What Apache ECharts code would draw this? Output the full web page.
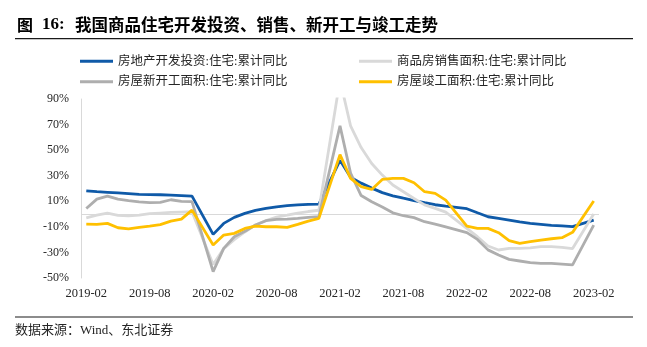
<!DOCTYPE html>
<html>
<head>
<meta charset="utf-8">
<script src="https://cdn.jsdelivr.net/npm/echarts@6/dist/echarts.min.js"></script>
<style>
html,body{margin:0;padding:0;background:#fff;}
#c{width:647px;height:347px;}
</style>
</head>
<body>
<div id="c"></div>
<script>
// ---- data ----
const months = [
  '2019-02','2019-03','2019-04','2019-05','2019-06','2019-07','2019-08','2019-09','2019-10','2019-11','2019-12','2020-01',
  '2020-02','2020-03','2020-04','2020-05','2020-06','2020-07','2020-08','2020-09','2020-10','2020-11','2020-12','2021-01',
  '2021-02','2021-03','2021-04','2021-05','2021-06','2021-07','2021-08','2021-09','2021-10','2021-11','2021-12','2022-01',
  '2022-02','2022-03','2022-04','2022-05','2022-06','2022-07','2022-08','2022-09','2022-10','2022-11','2022-12','2023-01',
  '2023-02'
];
const seriesNames = [
  '房地产开发投资:住宅:累计同比',
  '商品房销售面积:住宅:累计同比',
  '房屋新开工面积:住宅:累计同比',
  '房屋竣工面积:住宅:累计同比'
];
const investment = [
  18.2, 17.5, 17.0, 16.5, 16.0, 15.4, 15.2, 15.1, 14.8, 14.5, 14.0, null,
  -15.9, -7.3, -2.6, 0.5, 2.9, 4.4, 5.7, 6.6, 7.2, 7.6, 7.8, null,
  42.0, 28.8, 24.2, 20.3, 16.8, 14.3, 12.4, 10.6, 8.9, 7.3, 6.2, null,
  4.2, 1.0, -2.1, -3.4, -4.7, -6.1, -7.2, -8.0, -8.8, -9.3, -9.8, null,
  -4.7
];
const salesArea = [
  -2.9, -0.8, 0.8, -1.0, -1.3, -0.8, 0.3, 0.8, 1.3, 1.6, 1.8, null,
  -39.5, -27.0, -20.0, -14.0, -8.5, -5.0, -2.3, -0.8, 0.8, 2.0, 3.0, null,
  104.9, 69.0, 52.0, 39.5, 30.5, 22.7, 17.5, 12.2, 7.2, 4.4, 1.5, null,
  -11.2, -17.7, -25.0, -28.1, -26.8, -26.8, -26.5, -25.5, -25.5, -26.0, -27.0, null,
  0.0
];
const newStarts = [
  4.4, 11.7, 14.1, 11.7, 10.6, 9.6, 9.0, 9.1, 11.2, 9.9, 9.8, null,
  -45.0, -26.8, -17.7, -13.5, -8.6, -5.2, -4.2, -3.9, -3.4, -2.6, -2.0, null,
  69.0, 32.0, 14.5, 9.6, 5.5, 1.0, -1.3, -2.8, -6.0, -7.8, -10.0, null,
  -14.5, -19.8, -28.0, -32.0, -35.4, -36.7, -38.0, -38.5, -38.6, -39.1, -39.8, null,
  -8.6
];
const completions = [
  -7.8, -8.1, -7.3, -10.7, -11.5, -10.4, -9.4, -8.3, -5.5, -3.9, 3.1, null,
  -24.2, -16.4, -15.1, -11.2, -9.4, -9.9, -9.9, -10.4, -8.1, -5.5, -3.4, null,
  46.5, 27.9, 21.4, 19.3, 27.1, 27.9, 27.9, 24.5, 17.5, 16.2, 10.9, null,
  -9.4, -11.2, -11.2, -14.6, -20.8, -22.9, -21.6, -20.3, -19.3, -18.5, -14.3, null,
  10.2
];
const yMin = -50, yMax = 90, yStep = 20;
const colors = ['#0f5aa8', '#d9d9d9', '#aeaeae', '#ffc000'];
const titleText = '我国商品住宅开发投资、销售、新开工与竣工走势';
const sourceText = '数据来源：Wind、东北证券';

// ---- chart ----
const SERIF = '"Liberation Serif", "Noto Sans CJK SC", serif';
const chart = echarts.init(document.getElementById('c'), null, {renderer: 'canvas'});

function legendAt(name, left, top) {
  return {
    data: [name], left: left, top: top, padding: 0,
    icon: 'rect', itemWidth: 33, itemHeight: 3, itemGap: 0,
    textStyle: {fontFamily: SERIF, fontSize: 12.5, color: '#262626'},
    selectedMode: false
  };
}

const dataList = [investment, salesArea, newStarts, completions];
const series = dataList.map((d, i) => ({
  name: seriesNames[i],
  type: 'line',
  data: d,
  connectNulls: true,
  showSymbol: false,
  symbol: 'none',
  z: 2 + i,
  lineStyle: {color: colors[i], width: 2.8},
  itemStyle: {color: colors[i]},
  markLine: i === 0 ? {
    silent: true, symbol: 'none', label: {show: false},
    lineStyle: {color: '#d9d9d9', width: 1, type: 'solid'},
    data: [{yAxis: 0}], z: 1
  } : undefined
}));

chart.setOption({
  animation: false,
  backgroundColor: '#fff',
  grid: {left: 81, right: 48, top: 99, bottom: 69},
  legend: [
    legendAt(seriesNames[0], 80, 55),
    legendAt(seriesNames[1], 359, 55),
    legendAt(seriesNames[2], 80, 75.5),
    legendAt(seriesNames[3], 359, 75.5)
  ],
  xAxis: {
    type: 'category',
    data: months,
    boundaryGap: true,
    axisLine: {show: false},
    axisTick: {show: false},
    splitLine: {show: false},
    axisLabel: {interval: 5, margin: 9, fontFamily: SERIF, fontSize: 12.5, color: '#262626'}
  },
  yAxis: {
    type: 'value',
    min: yMin, max: yMax, interval: yStep,
    axisLine: {show: true, lineStyle: {color: '#d9d9d9', width: 1}},
    axisTick: {show: false},
    splitLine: {show: false},
    axisLabel: {formatter: '{value}%', margin: 12, fontFamily: SERIF, fontSize: 12, color: '#262626'}
  },
  series: series,
  graphic: [
    {type: 'text', style: {x: 17, y: 25, text: '图', font: 'bold 16px "Noto Sans CJK SC"', fill: '#000', verticalAlign: 'middle'}},
    {type: 'text', style: {x: 42, y: 25, text: '16:', font: 'bold 17px "Liberation Serif"', fill: '#000', verticalAlign: 'middle'}},
    {type: 'text', style: {x: 75, y: 25, text: titleText, font: 'bold 16.5px "Noto Sans CJK SC"', fill: '#000', verticalAlign: 'middle'}},
    {type: 'line', shape: {x1: 15, y1: 38.7, x2: 633, y2: 38.7}, style: {stroke: '#1a1a1a', lineWidth: 1.3}},
    {type: 'line', shape: {x1: 15, y1: 317, x2: 633, y2: 317}, style: {stroke: '#8c8c8c', lineWidth: 2}},
    {type: 'text', style: {x: 15, y: 331, text: sourceText, font: '13px "Liberation Serif", "Noto Sans CJK SC"', fill: '#262626', verticalAlign: 'middle'}}
  ]
});
</script>
</body>
</html>
